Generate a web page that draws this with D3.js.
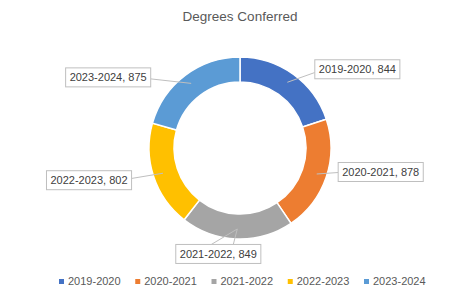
<!DOCTYPE html>
<html>
<head>
<meta charset="utf-8">
<script src="https://cdn.jsdelivr.net/npm/d3@7"></script>
<style>
  body { margin: 0; background: #fff; }
  svg { display: block; font-family: "Liberation Sans", Arial, sans-serif; }
</style>
</head>
<body>
<div id="chart"></div>
<script>
var title = "Degrees Conferred";
var years = ["2019-2020", "2020-2021", "2021-2022", "2022-2023", "2023-2024"];
var degrees = [844, 878, 849, 802, 875];
var colors = ["#4472C4", "#ED7D31", "#A5A5A5", "#FFC000", "#5B9BD5"];

var width = 465,
    height = 293,
    cx = 240, cy = 148,
    outerR = 91, innerR = 66,
    anchorR = 81;

// where each label box sits, relative to its anchor on the ring
var labelOffset = [[70, -13], [64, -2], [-19, 25], [-74, 7], [-83, -6]];

var svg = d3.select("#chart").append("svg")
    .attr("width", width)
    .attr("height", height);

svg.append("text")
    .attr("x", cx)
    .attr("y", 21)
    .attr("text-anchor", "middle")
    .attr("font-size", "13.5px")
    .attr("fill", "#595959")
    .text(title);

var rows = years.map(function(y, i) { return { year: y, value: degrees[i], color: colors[i] }; });

var pie = d3.pie().sort(null).value(function(d) { return d.value; });
var arc = d3.arc().innerRadius(innerR).outerRadius(outerR);
var arcs = pie(rows);

var g = svg.append("g").attr("transform", "translate(" + cx + "," + cy + ")");

g.selectAll("path")
    .data(arcs)
  .enter().append("path")
    .attr("d", arc)
    .attr("fill", function(d) { return d.data.color; })
    .attr("stroke", "#fff")
    .attr("stroke-width", 1.5);

// data labels with leader lines
var boxH = 19;
arcs.forEach(function(d, i) {
  var a = (d.startAngle + d.endAngle) / 2;
  var ax = cx + anchorR * Math.sin(a),
      ay = cy - anchorR * Math.cos(a);
  var bx = ax + labelOffset[i][0],
      by = ay + labelOffset[i][1];

  var lbl = svg.append("g");
  var t = lbl.append("text")
      .attr("x", bx)
      .attr("y", by + 4)
      .attr("text-anchor", "middle")
      .attr("font-size", "11px")
      .attr("fill", "#404040")
      .text(d.data.year + ", " + d3.format("d")(d.value));
  var w = t.node().getComputedTextLength() + 8;
  var left = bx - w / 2, right = bx + w / 2, top = by - boxH / 2, bottom = by + boxH / 2;

  var pts;
  if (ay < top) {
    pts = [[bx - 7, top], [ax, ay], [bx + 15, top]];
  } else if (ax > right) {
    pts = [[right, by + 0.25 * (ay - by)], [ax, ay]];
  } else {
    pts = [[left, by + 0.25 * (ay - by)], [ax, ay]];
  }
  svg.insert("path", "g:last-child")
      .attr("d", d3.line()(pts))
      .attr("fill", "none")
      .attr("stroke", "#bfbfbf")
      .attr("stroke-width", 1);

  lbl.insert("rect", "text")
      .attr("x", left).attr("y", top)
      .attr("width", w).attr("height", boxH)
      .attr("fill", "#fff")
      .attr("stroke", "#bfbfbf")
      .attr("stroke-width", 1);
});

// legend
var legendX = d3.scalePoint().domain(years).range([59, 364]);
var leg = svg.append("g").selectAll("g")
    .data(rows)
  .enter().append("g")
    .attr("transform", function(d) { return "translate(" + legendX(d.year) + ",280)"; });
leg.append("rect")
    .attr("width", 5).attr("height", 5)
    .attr("y", -1)
    .attr("fill", function(d) { return d.color; });
leg.append("text")
    .attr("x", 9)
    .attr("y", 5)
    .attr("font-size", "11px")
    .attr("fill", "#595959")
    .text(function(d) { return d.year; });
</script>
</body>
</html>
